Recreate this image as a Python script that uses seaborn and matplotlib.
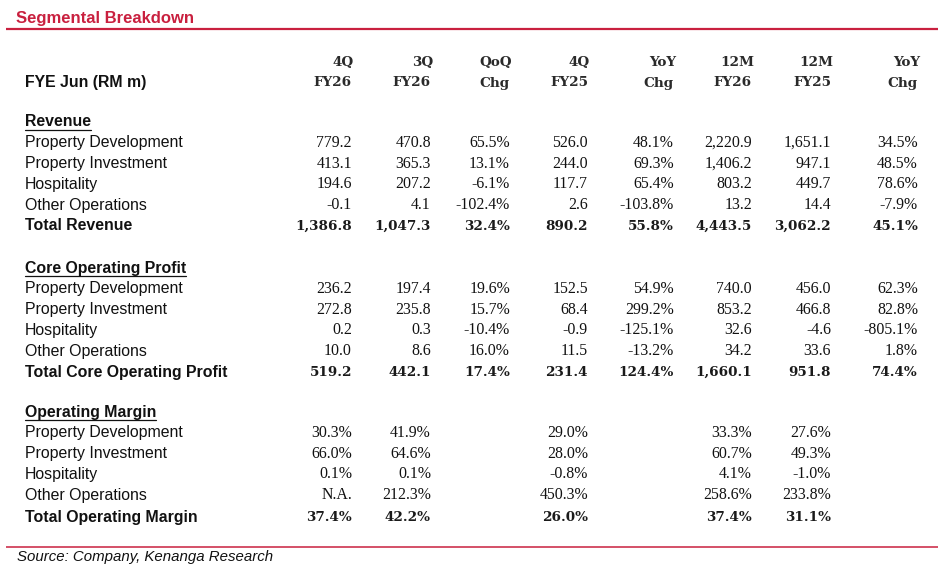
import matplotlib
matplotlib.use("Agg")
import matplotlib.pyplot as plt
import seaborn as sns
import numpy as np

sns.set_theme(style="white")
plt.rcParams['font.family'] = ['Liberation Sans', 'DejaVu Sans']

# ---------------- data ----------------
title = "Segmental Breakdown"
stub_header = "FYE Jun (RM m)"
col_line1 = ["4Q", "3Q", "QoQ", "4Q", "YoY", "12M", "12M", "YoY"]
col_line2 = ["FY26", "FY26", "Chg", "FY25", "Chg", "FY26", "FY25", "Chg"]
col_is_pct = [False, False, True, False, True, False, False, True]

sections = ["Revenue", "Core Operating Profit", "Operating Margin"]
segments = ["Property Development", "Property Investment", "Hospitality", "Other Operations"]
total_labels = ["Total Revenue", "Total Core Operating Profit", "Total Operating Margin"]

rev_prop_dev = [779.2, 470.8, 65.5, 526.0, 48.1, 2220.9, 1651.1, 34.5]
rev_prop_inv = [413.1, 365.3, 13.1, 244.0, 69.3, 1406.2, 947.1, 48.5]
rev_hosp = [194.6, 207.2, -6.1, 117.7, 65.4, 803.2, 449.7, 78.6]
rev_other = [-0.1, 4.1, -102.4, 2.6, -103.8, 13.2, 14.4, -7.9]
rev_total = [1386.8, 1047.3, 32.4, 890.2, 55.8, 4443.5, 3062.2, 45.1]

cop_prop_dev = [236.2, 197.4, 19.6, 152.5, 54.9, 740.0, 456.0, 62.3]
cop_prop_inv = [272.8, 235.8, 15.7, 68.4, 299.2, 853.2, 466.8, 82.8]
cop_hosp = [0.2, 0.3, -10.4, -0.9, -125.1, 32.6, -4.6, -805.1]
cop_other = [10.0, 8.6, 16.0, 11.5, -13.2, 34.2, 33.6, 1.8]
cop_total = [519.2, 442.1, 17.4, 231.4, 124.4, 1660.1, 951.8, 74.4]

om_prop_dev = [30.3, 41.9, None, 29.0, None, 33.3, 27.6, None]
om_prop_inv = [66.0, 64.6, None, 28.0, None, 60.7, 49.3, None]
om_hosp = [0.1, 0.1, None, -0.8, None, 4.1, -1.0, None]
om_other = ["N.A.", 212.3, None, 450.3, None, 258.6, 233.8, None]
om_total = [37.4, 42.2, None, 26.0, None, 37.4, 31.1, None]

source = "Source: Company, Kenanga Research"

section_rows = [
    [rev_prop_dev, rev_prop_inv, rev_hosp, rev_other, rev_total],
    [cop_prop_dev, cop_prop_inv, cop_hosp, cop_other, cop_total],
    [om_prop_dev, om_prop_inv, om_hosp, om_other, om_total],
]

# ---------------- layout ----------------
W, H = 948, 567
RED = "#C9203F"
TXT = "#111111"
col_right = [352, 431, 510, 588, 674, 752, 831, 918]
label_x = 25
section_y = [122, 268, 412]
row_step = 20.8
SANS = ['Liberation Sans', 'DejaVu Sans']
SERIF = ['Liberation Serif', 'DejaVu Serif']
HEAD = ['DejaVu Serif']
FS_LBL = 11.4
FS_NUM = 11.4
FS_HEAD = 9.7

fig = plt.figure(figsize=(W / 100, H / 100), dpi=100)
ax = fig.add_axes([0, 0, 1, 1])
ax.set_xlim(0, W)
ax.set_ylim(H, 0)
ax.axis("off")


def fmt(v, pct, section_idx):
    if v is None:
        return ""
    if isinstance(v, str):
        return v
    if pct or section_idx == 2:
        return f"{v:.1f}%"
    return f"{v:,.1f}"


# title and rules
ax.text(16, 19, title, color=RED, fontsize=12, fontweight="bold",
        family=SANS, ha="left", va="center")
ax.plot([6, 938], [29, 29], color=RED, lw=1.6, solid_capstyle="butt")
ax.plot([6, 938], [547, 547], color=RED, lw=1.1, solid_capstyle="butt")
ax.text(17, 557, source, color=TXT, fontsize=10.8, fontstyle="italic",
        family=SANS, ha="left", va="center")

# header
ax.text(label_x, 83, stub_header, color=TXT, fontsize=FS_LBL, fontweight="bold",
        family=SANS, ha="left", va="center")
for j in range(len(col_line1)):
    ax.text(col_right[j] + 2, 62, col_line1[j], color="#2a2a2a", fontsize=FS_HEAD,
            fontweight="bold", family=HEAD, ha="right", va="center")
    ax.text(col_right[j], 83, col_line2[j], color="#2a2a2a", fontsize=FS_HEAD,
            fontweight="bold", family=HEAD, ha="right", va="center")

renderer = fig.canvas.get_renderer()
inv = ax.transData.inverted()

for s, sec in enumerate(sections):
    y0 = section_y[s]
    t = ax.text(label_x, y0, sec, color=TXT, fontsize=FS_LBL, fontweight="bold",
                family=SANS, ha="left", va="center")
    bb = t.get_window_extent(renderer=renderer)
    (x0d, _), (x1d, _) = inv.transform([(bb.x0, bb.y0), (bb.x1, bb.y1)])
    ax.plot([x0d, x1d], [y0 + 8, y0 + 8], color=TXT, lw=0.9)
    rows = section_rows[s]
    labels = segments + [total_labels[s]]
    for r, (lab, vals) in enumerate(zip(labels, rows)):
        y = y0 + row_step * (r + 1)
        is_total = r == len(labels) - 1
        if s == 2 and is_total:
            y += 1.5
        w = "bold" if is_total else "normal"
        ax.text(label_x, y, lab, color=TXT, fontsize=FS_LBL, fontweight=w,
                family=SANS, ha="left", va="center")
        for j, v in enumerate(vals):
            txt = fmt(v, col_is_pct[j], s)
            if not txt:
                continue
            if is_total:
                ax.text(col_right[j], y, txt, color="#1a1a1a", fontsize=FS_HEAD,
                        fontweight="bold", family=HEAD, ha="right", va="center")
            else:
                ax.text(col_right[j], y, txt, color=TXT, fontsize=FS_NUM,
                        fontweight="normal", family=SERIF, ha="right", va="center")

fig.savefig("out.png", dpi=100, facecolor="white")
